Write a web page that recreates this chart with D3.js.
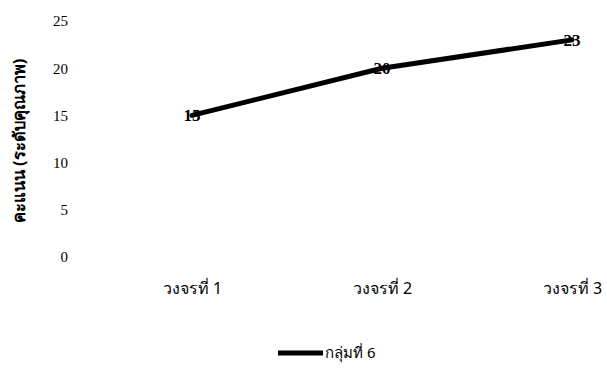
<!DOCTYPE html>
<html>
<head>
<meta charset="utf-8">
<script src="https://cdn.jsdelivr.net/npm/d3@7"></script>
<style>
  html, body { margin: 0; padding: 0; background: #fff; }
  svg text { fill: #000; }
</style>
</head>
<body>
<svg id="chart" width="607" height="368"></svg>
<script>
// Scores per teaching cycle for group 6
const categories = ["วงจรที่ 1", "วงจรที่ 2", "วงจรที่ 3"];
const scores = [15, 20, 23];
const yTicks = [0, 5, 10, 15, 20, 25];
const seriesName = "กลุ่มที่ 6";
const yTitle = "คะแนน (ระดับคุณภาพ)";

const svg = d3.select("#chart");

const x = d3.scalePoint().domain(categories).range([192, 572]);
const y = d3.scaleLinear().domain([0, 25]).range([257, 21]);

// Y axis: labels only, no line or ticks
const yAxis = svg.append("g")
  .attr("transform", "translate(68,0)")
  .call(d3.axisLeft(y).tickValues(yTicks).tickSize(0).tickPadding(0));
yAxis.select(".domain").remove();
yAxis.selectAll("text")
  .attr("font-family", "'Liberation Serif', 'DejaVu Serif', serif")
  .attr("font-size", 15)
  .attr("fill", "#000");

// X axis: category labels only
const xAxis = svg.append("g")
  .attr("transform", "translate(0,283)")
  .call(d3.axisBottom(x).tickSize(0).tickPadding(0));
xAxis.select(".domain").remove();
xAxis.selectAll("text")
  .attr("font-family", "Tahoma, 'Noto Sans', sans-serif")
  .attr("font-size", 16)
  .attr("fill", "#000");

// Y axis title
svg.append("text")
  .attr("transform", "translate(25,141) rotate(-90)")
  .attr("text-anchor", "middle")
  .attr("font-family", "Tahoma, 'Noto Sans', sans-serif")
  .attr("font-size", 16.5)
  .attr("font-weight", "bold")
  .text(yTitle);

// Series line
const line = d3.line()
  .x((d, i) => x(categories[i]))
  .y(d => y(d));

svg.append("path")
  .datum(scores)
  .attr("d", line)
  .attr("fill", "none")
  .attr("stroke", "#000")
  .attr("stroke-width", 5)
  .attr("stroke-linecap", "round")
  .attr("stroke-linejoin", "round");

// Value labels centred on each point
svg.selectAll(".val")
  .data(scores)
  .enter().append("text")
  .attr("class", "val")
  .attr("x", (d, i) => x(categories[i]))
  .attr("y", d => y(d))
  .attr("dy", "0.35em")
  .attr("text-anchor", "middle")
  .attr("font-family", "'Liberation Serif', 'DejaVu Serif', serif")
  .attr("font-size", 17)
  .attr("font-weight", "bold")
  .text(d => d);

// Legend
const legend = svg.append("g");
legend.append("line")
  .attr("x1", 278).attr("x2", 323)
  .attr("y1", 353).attr("y2", 353)
  .attr("stroke", "#000")
  .attr("stroke-width", 5);
legend.append("text")
  .attr("x", 325)
  .attr("y", 353)
  .attr("dy", "0.35em")
  .attr("font-family", "Tahoma, 'Noto Sans', sans-serif")
  .attr("font-size", 15)
  .text(seriesName);
</script>
</body>
</html>
